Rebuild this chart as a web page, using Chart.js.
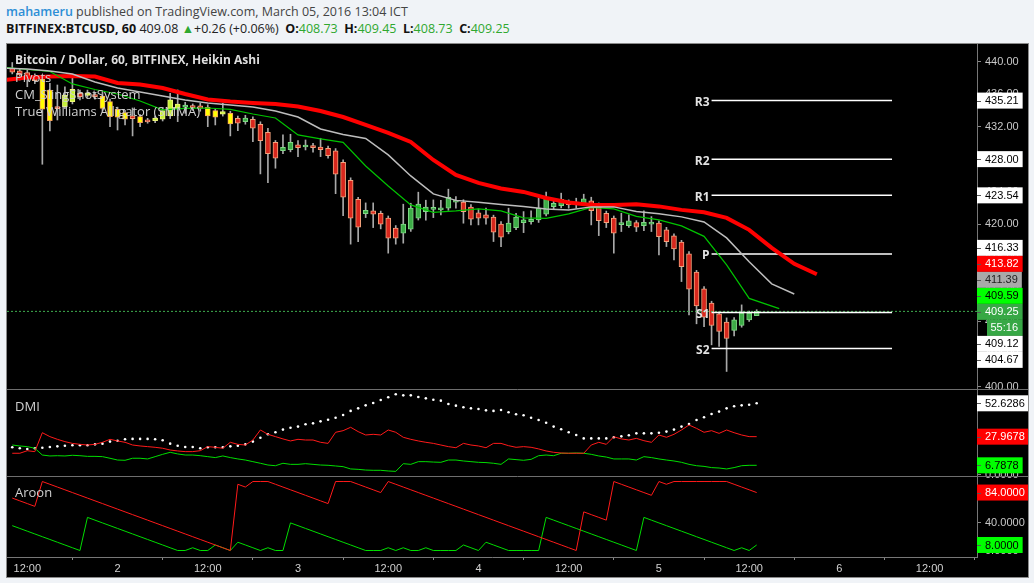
<!DOCTYPE html>
<html>
<head>
<meta charset="utf-8">
<script src="https://cdn.jsdelivr.net/npm/chart.js@4.4.0/dist/chart.umd.min.js"></script>
<style>
  html, body { margin: 0; padding: 0; width: 1034px; height: 583px; overflow: hidden; background: #f0f3f7; font-family: 'Open Sans', sans-serif; }
  .hdr { position: absolute; left: 6px; white-space: nowrap; font-size: 12.5px; line-height: 17px; }
  #l1 { top: 3px; color: #444; }
  #l2 { top: 20px; color: #222; }
  .user { color: #2c8ed6; font-weight: 600; }
  .b { font-weight: 700; color: #111; }
  .up { color: #2fa82f; }
  #frame { position: absolute; left: 6px; top: 43px; width: 1021px; height: 533px; border: 1px solid #8a8a8a; background: #000; }
  canvas { display: block; }
</style>
</head>
<body>
<div class="hdr" id="l1"><span class="user">mahameru</span> published on TradingView.com, March 05, 2016 13:04 ICT</div>
<div class="hdr" id="l2"><span class="b">BITFINEX:BTCUSD, 60</span> 409.08 <span class="up">&#9650;</span>+0.26 (+0.06%) &nbsp;<span class="b">O:</span><span class="up">408.73</span> &nbsp;<span class="b">H:</span><span class="up">409.45</span> &nbsp;<span class="b">L:</span><span class="up">408.73</span> &nbsp;<span class="b">C:</span><span class="up">409.25</span></div>
<div id="frame"><canvas id="chart" width="1021" height="533"></canvas></div>
<script>
// hourly Heikin Ashi bars, first bar = March 1, 10:00 (x values are hours since March 1, 00:00)
const firstHour = 10
const opens = [439.19, 438.89, 438.65, 438.15, 437.87, 436.52, 434.46, 434.46, 435.08, 436.11,
  435.86, 435.90, 435.78, 435.08, 434.14, 433.72, 433.32, 433.23, 432.82, 432.74,
  432.91, 433.32, 434.22, 434.39, 434.55, 434.55, 434.39, 433.97, 433.53, 433.65,
  433.03, 432.62, 432.91, 432.30, 431.31, 430.08, 429.05, 429.17, 429.75, 429.50,
  429.62, 429.50, 429.34, 429.01, 427.62, 425.40, 423.06, 421.29, 421.62, 421.34,
  420.73, 419.50, 418.88, 419.37, 420.73, 421.54, 421.82, 421.75, 421.96, 422.69,
  422.70, 422.08, 421.38, 421.13, 420.85, 419.99, 419.08, 419.57, 420.18, 420.31,
  420.52, 421.22, 422.15, 422.28, 422.70, 422.57, 422.52, 422.86, 422.36, 421.34,
  420.73, 419.94, 419.82, 420.18, 419.82, 419.99, 420.11, 419.29, 418.55, 417.77,
  416.33, 414.08, 412.02, 410.26, 408.95, 407.93, 406.89, 407.51, 408.21, 408.73]
const highs = [439.9, 439.1, 439.0, 438.5, 438.15, 437.34, 437.13, 436.92, 438.15, 436.5,
  436.5, 436.2, 436.31, 435.4, 434.4, 434.0, 434.3, 433.5, 433.03, 433.3,
  434.3, 436.11, 436.52, 435.0, 434.8, 434.9, 434.7, 434.2, 434.88, 433.9,
  433.3, 433.4, 433.2, 432.6, 431.80, 430.3, 430.98, 431.06, 430.28, 430.36,
  429.96, 430.57, 429.6, 429.3, 427.9, 425.7, 423.3, 422.61, 422.61, 421.6,
  421.0, 419.82, 422.45, 422.57, 423.93, 422.94, 422.98, 422.94, 424.30, 423.38,
  423.0, 422.4, 421.87, 421.96, 421.1, 420.3, 421.96, 421.34, 421.54, 421.62,
  423.19, 423.93, 423.10, 423.81, 422.98, 423.19, 423.68, 423.31, 422.6, 421.6,
  421.0, 421.34, 421.13, 420.43, 421.62, 420.92, 420.4, 419.6, 418.8, 418.0,
  416.6, 414.3, 412.3, 410.5, 409.2, 408.45, 408.5, 410.05, 409.3, 409.45]
const lows = [438.5, 437.75, 436.92, 437.3, 427.37, 431.47, 432.82, 434.2, 434.8, 435.3,
  435.6, 435.4, 433.9, 432.0, 431.59, 432.21, 430.86, 432.0, 432.42, 432.5,
  432.7, 433.0, 432.62, 433.65, 434.0, 433.9, 432.0, 432.21, 433.3, 430.86,
  431.51, 432.3, 430.15, 426.18, 425.11, 426.88, 428.68, 428.9, 428.31, 429.13,
  428.85, 428.31, 428.11, 423.75, 421.05, 417.53, 417.85, 420.80, 419.57, 419.41,
  416.42, 417.53, 417.65, 419.1, 420.5, 420.48, 420.80, 421.13, 421.7, 421.96,
  420.11, 419.90, 419.90, 419.99, 417.85, 417.23, 418.8, 419.3, 418.95, 420.0,
  420.2, 421.0, 421.9, 422.0, 421.96, 421.96, 422.3, 419.90, 418.58, 419.57,
  416.42, 419.08, 419.6, 419.08, 419.20, 419.08, 416.21, 417.23, 415.59, 412.92,
  408.82, 407.72, 407.38, 405.13, 404.92, 401.85, 406.24, 407.3, 408.0, 408.73]
const closes = [438.70, 438.36, 437.96, 437.66, 434.14, 432.74, 434.22, 435.90, 436.60, 435.69,
  436.18, 435.69, 434.26, 433.23, 433.16, 432.91, 432.98, 432.49, 432.58, 433.07,
  433.97, 435.29, 434.79, 434.67, 434.34, 434.26, 433.32, 433.16, 433.85, 432.33,
  432.42, 433.07, 431.80, 430.28, 428.68, 428.11, 429.46, 430.08, 429.42, 429.59,
  429.42, 429.17, 428.43, 426.14, 423.31, 420.73, 419.62, 421.71, 421.22, 419.99,
  418.27, 418.27, 419.99, 421.96, 422.45, 422.08, 421.90, 421.96, 423.31, 422.77,
  421.54, 420.60, 420.73, 420.73, 419.00, 418.39, 420.11, 420.85, 420.52, 420.60,
  421.96, 423.31, 422.57, 423.06, 422.40, 422.45, 423.10, 421.66, 420.43, 420.18,
  418.88, 420.02, 420.39, 419.62, 420.23, 420.18, 418.46, 417.85, 416.95, 414.77,
  411.99, 409.93, 408.54, 407.51, 406.77, 405.91, 408.21, 409.03, 409.03, 409.25]
// bars highlighted by CM_SlingShotSystem
const slingshot = [0, 0, 0, 0, 1, 1, 0, 1, 1, 0,
  1, 0, 1, 1, 1, 1, 0, 1, 0, 1,
  1, 1, 1, 0, 0, 0, 1, 1, 1, 1]

// Williams Alligator (SMMA), sampled every 3 hours from hour 9
const alligatorStart = 9
const alligatorStep = 3
const jaw = [437.75, 438.06, 438.18, 438.24, 438.18, 437.38, 437.19, 436.76, 436.02, 435.35,
  435.10, 434.92, 434.79, 434.49, 433.93, 433.19, 432.21, 431.22, 430.12, 427.90,
  426.06, 425.07, 424.39, 423.96, 423.22, 422.67, 422.36, 422.36, 422.45, 422.18,
  421.75, 421.46, 420.76, 419.29, 417.07, 415.10, 413.82]
const teeth = [439.22, 439.10, 438.86, 438.49, 437.50, 436.76, 436.27, 435.78, 435.29, 434.92,
  434.67, 434.42, 433.93, 433.19, 431.72, 431.04, 430.55, 428.52, 425.93, 423.72,
  422.92, 422.70, 422.42, 422.18, 421.87, 421.75, 422.12, 422.12, 421.56, 421.26,
  420.89, 420.27, 418.30, 415.35, 412.64, 411.39]
const lips = [439.29, 439.04, 438.79, 437.26, 436.58, 436.02, 435.16, 434.06, 434.24, 434.30,
  434.12, 433.56, 433.07, 430.98, 430.49, 430.06, 427.16, 424.70, 422.36, 421.44,
  421.62, 421.87, 421.62, 420.76, 420.70, 421.26, 422.06, 421.87, 420.95, 420.52,
  419.78, 418.49, 414.98, 410.85, 409.59]

// pivots
const pivotNames = ['R3', 'R2', 'R1', 'P', 'S1', 'S2']
const pivotValues = [435.21, 428.00, 423.54, 416.33, 409.12, 404.67]
const pivotFrom = 103
const pivotTo = 127

// DMI
const adx = [20.1, 19.4, 18.9, 19.4, 19.8, 20.3, 20.8, 21.3, 21.6, 21.6,
  21.6, 22.3, 22.8, 24.3, 25.0, 26.0, 26.3, 26.3, 26.3, 26.0,
  25.3, 22.8, 21.3, 20.3, 20.3, 19.4, 20.1, 20.1, 20.1, 20.8,
  21.3, 22.3, 24.3, 27.2, 29.7, 31.2, 33.2, 34.6, 35.4, 37.1,
  37.8, 39.3, 40.5, 42.0, 44.0, 47.0, 48.9, 51.1, 52.9, 55.1,
  57.1, 59.3, 58.5, 58.5, 57.3, 56.3, 55.3, 54.6, 52.1, 50.9,
  49.7, 48.9, 48.4, 47.4, 47.0, 47.7, 46.0, 44.5, 43.8, 42.0,
  40.3, 38.3, 35.4, 33.4, 31.2, 29.2, 26.7, 26.7, 26.7, 26.7,
  27.5, 28.2, 29.0, 30.4, 30.4, 30.4, 30.9, 31.7, 33.2, 35.4,
  37.3, 40.3, 42.3, 44.7, 46.5, 48.9, 50.4, 51.1, 51.6, 52.6286]
const plusDI = [15.7, 15.7, 17.6, 16.9, 30.9, 28.0, 26.0, 24.3, 23.0, 22.3,
  21.8, 22.3, 23.8, 26.0, 24.8, 23.8, 21.8, 21.1, 20.6, 20.1,
  19.4, 18.1, 17.4, 16.9, 16.9, 17.6, 20.6, 20.1, 19.4, 23.8,
  22.3, 21.8, 25.5, 32.9, 29.7, 28.0, 26.3, 24.8, 26.0, 25.5,
  25.5, 23.8, 23.0, 31.2, 32.4, 34.9, 31.7, 29.2, 29.7, 29.2,
  32.9, 31.2, 27.5, 26.0, 24.8, 23.8, 23.0, 21.8, 20.6, 19.8,
  23.0, 21.8, 21.1, 19.8, 23.0, 23.0, 21.3, 20.1, 20.6, 20.1,
  18.9, 17.4, 16.4, 15.9, 15.7, 15.7, 15.7, 21.8, 23.8, 22.3,
  27.9, 26.3, 25.5, 26.7, 25.0, 23.8, 29.2, 27.5, 29.7, 32.9,
  36.6, 34.1, 31.2, 32.4, 30.4, 32.9, 30.9, 29.2, 28.0, 27.9678]
const minusDI = [21.8, 21.1, 20.6, 19.4, 14.4, 13.7, 13.9, 13.7, 14.2, 13.9,
  13.4, 13.4, 13.2, 12.0, 10.7, 10.5, 12.0, 12.0, 11.5, 13.2,
  14.9, 16.4, 15.2, 14.4, 14.4, 13.9, 13.2, 12.5, 13.7, 12.5,
  11.5, 10.7, 9.5, 8.3, 7.0, 6.5, 8.3, 7.5, 7.5, 8.0,
  7.5, 7.0, 6.8, 6.3, 5.8, 4.1, 3.8, 3.3, 3.1, 3.1,
  2.6, 2.3, 8.0, 7.5, 9.5, 9.5, 9.2, 9.0, 10.7, 10.7,
  10.0, 9.5, 9.0, 8.8, 8.3, 7.5, 11.5, 11.0, 10.5, 11.2,
  13.9, 14.4, 13.9, 15.7, 15.7, 15.9, 15.7, 14.9, 13.7, 12.9,
  11.5, 11.5, 11.5, 10.7, 13.2, 12.5, 11.5, 10.7, 10.0, 9.0,
  7.5, 6.5, 6.0, 5.1, 4.8, 4.1, 5.1, 6.5, 6.8, 6.7878]

// Aroon
const aroonRed = [76, 72, 68, 64, 100, 96, 92, 88, 84, 80,
  76, 72, 68, 64, 60, 56, 52, 48, 44, 40,
  36, 32, 28, 24, 20, 16, 12, 8, 4, 0,
  96, 92, 100, 100, 100, 96, 92, 88, 84, 80,
  76, 72, 68, 100, 100, 100, 96, 92, 88, 84,
  100, 96, 92, 88, 84, 80, 76, 72, 68, 64,
  60, 56, 52, 48, 44, 40, 36, 32, 28, 24,
  20, 16, 12, 8, 4, 0, 56, 52, 48, 44,
  100, 96, 92, 88, 84, 80, 100, 96, 100, 100,
  100, 100, 100, 100, 100, 100, 96, 92, 88, 84]
const aroonGreen = [36, 32, 28, 24, 20, 16, 12, 8, 4, 0,
  48, 44, 40, 36, 32, 28, 24, 20, 16, 12,
  8, 4, 0, 0, 4, 0, 0, 8, 4, 0,
  12, 8, 4, 0, 4, 0, 0, 40, 36, 32,
  28, 24, 20, 16, 12, 8, 4, 0, 0, 0,
  4, 0, 4, 0, 0, 4, 0, 0, 0, 0,
  8, 4, 0, 12, 8, 4, 0, 0, 0, 0,
  0, 48, 44, 40, 36, 32, 28, 24, 20, 16,
  12, 8, 4, 0, 48, 44, 40, 36, 32, 28,
  24, 20, 16, 12, 8, 4, 0, 4, 0, 8]

// axes
const xMin = 9.3
const xMax = 138.3
const xTicks = [12, 24, 36, 48, 60, 72, 84, 96, 108, 120, 132]
const priceTicks = [400, 404, 408, 412, 416, 420, 424, 428, 432, 436, 440]
const dmiTicks = [0, 25, 50]
const aroonTicks = [0, 40, 80]
const countdown = '55:16'

const title = 'Bitcoin / Dollar, 60, BITFINEX, Heikin Ashi'
const studies = ['Pivots', 'CM_SlingShotSystem', 'True Williams Alligator (SMMA)']

const barX = opens.map((_, i) => firstHour + i)
const series = vals => vals.map((v, i) => ({ x: barX[i], y: v }))
const sampled = vals => vals.map((v, i) => ({ x: alligatorStart + i * alligatorStep, y: v }))
const lipsPts = sampled(lips)
lipsPts[lipsPts.length - 1].x = 112

const bodyFill = []
const bodyEdge = []
opens.forEach((o, i) => {
  const up = closes[i] >= o
  if (slingshot[i]) {
    bodyFill.push(up ? '#c4f23a' : '#ffff00')
    bodyEdge.push(up ? '#eef77a' : '#f6a35a')
  } else {
    bodyFill.push(up ? '#3dac47' : '#d8271d')
    bodyEdge.push(up ? '#7fd884' : '#f5a27c')
  }
})

const lineDs = (data, color, width, axis) => ({
  type: 'line', data, yAxisID: axis || 'y', borderColor: color, borderWidth: width,
  pointRadius: 0, tension: 0, fill: false, order: 1
})

const datasets = [
  { type: 'bar', data: barX.map((h, i) => ({ x: h, y: [lows[i], highs[i]] })),
    backgroundColor: '#a9a9a9', barThickness: 1, grouped: false, order: 4 },
  { type: 'bar', data: barX.map((h, i) => ({ x: h, y: [opens[i], closes[i]] })),
    backgroundColor: bodyFill, borderColor: bodyEdge, borderWidth: 1, borderSkipped: false,
    barThickness: 5, minBarLength: 2, grouped: false, order: 3 },
  lineDs(sampled(teeth), '#bdbdbd', 1.5),
  lineDs(lipsPts, '#00c400', 1.2),
  lineDs(sampled(jaw), '#ff0000', 4),
  ...pivotValues.map(v => lineDs([{ x: pivotFrom, y: v }, { x: pivotTo, y: v }], '#ffffff', 1.5)),
  Object.assign(lineDs([{ x: xMin, y: closes[closes.length - 1] }, { x: xMax, y: closes[closes.length - 1] }], '#3fae4f', 1), { borderDash: [2, 2] }),
  lineDs(series(plusDI), '#ff1a1a', 1, 'yDmi'),
  lineDs(series(minusDI), '#00dd00', 1, 'yDmi'),
  { type: 'line', data: series(adx), yAxisID: 'yDmi', showLine: false, pointRadius: 1.3,
    pointBackgroundColor: '#ffffff', pointBorderWidth: 0, order: 1 },
  lineDs(series(aroonRed), '#ff1a1a', 1, 'yAr'),
  lineDs(series(aroonGreen), '#00dd00', 1, 'yAr')
]

const noPad = s => { s.paddingTop = 0; s.paddingBottom = 0; s.paddingLeft = 0; s.paddingRight = 0 }
const axisFont = { family: '"Liberation Sans", Arial, sans-serif', size: 11 }
const yScale = (weight, min, max, ticks, digits) => ({
  type: 'linear', position: 'right', stack: 'panes', stackWeight: weight, min, max,
  afterBuildTicks: s => { s.ticks = ticks.map(v => ({ value: v })) },
  afterFit: s => { s.width = 51; noPad(s) },
  ticks: { color: '#c8c8c8', font: axisFont, padding: 4, callback: v => v.toFixed(digits) },
  grid: { display: true, drawOnChartArea: false, drawTicks: true, tickLength: 4, color: '#888' },
  border: { display: true, color: '#777' }
})

// push overlapping axis labels apart, keeping each group centred on its values
function stackBoxes (items) {
  items.sort((a, b) => a.key - b.key)
  const topOf = g => {
    let acc = 0, sum = 0
    g.forEach(it => { sum += it.want - (acc + it.h / 2); acc += it.h })
    return sum / g.length
  }
  const hOf = g => g.reduce((s, it) => s + it.h, 0)
  const groups = items.map(it => [it])
  let again = true
  while (again) {
    again = false
    for (let i = 0; i < groups.length - 1; i++) {
      if (topOf(groups[i]) + hOf(groups[i]) > topOf(groups[i + 1])) {
        groups.splice(i, 2, groups[i].concat(groups[i + 1]))
        again = true
        break
      }
    }
  }
  groups.forEach(g => { let t = topOf(g); g.forEach(it => { it.top = t; t += it.h }) })
  return items
}

const overlay = {
  id: 'overlay',
  afterDraw (chart) {
    const ctx = chart.ctx
    const { x, y, yDmi, yAr } = chart.scales
    const right = chart.chartArea.right
    ctx.save()
    ctx.strokeStyle = '#6e6e6e'
    ctx.lineWidth = 1
    ;[yDmi.top, yAr.top].forEach(t => {
      ctx.beginPath()
      ctx.moveTo(0, Math.round(t) + 0.5)
      ctx.lineTo(chart.width, Math.round(t) + 0.5)
      ctx.stroke()
    })

    ctx.textBaseline = 'middle'
    ctx.textAlign = 'left'
    ctx.fillStyle = '#dedede'
    ctx.font = 'bold 12px "Open Sans"'
    ctx.fillText(title, 8, y.top + 17)
    ctx.font = '13px "Open Sans"'
    ctx.fillStyle = '#d0d0d0'
    studies.forEach((s, i) => ctx.fillText(s, 8, y.top + 34 + i * 17))
    ctx.fillText('DMI', 8, yDmi.top + 18)
    ctx.fillText('Aroon', 8, yAr.top + 17)

    ctx.font = 'bold 12px "Open Sans"'
    ctx.textAlign = 'right'
    ctx.fillStyle = '#e2e2e2'
    pivotNames.forEach((n, i) => ctx.fillText(n, x.getPixelForValue(pivotFrom) - 2, y.getPixelForValue(pivotValues[i]) + 2))

    const last = a => a[a.length - 1]
    const priceItems = pivotValues.map(v => ({ v, bg: '#ffffff', fg: '#000' }))
    priceItems.push({ v: last(jaw), bg: '#ff0000', fg: '#fff' })
    priceItems.push({ v: last(teeth), bg: '#a9a9a9', fg: '#222' })
    priceItems.push({ v: last(lips), bg: '#00ff00', fg: '#000' })
    priceItems.push({ v: last(closes), bg: '#37a845', fg: '#fff', extra: countdown })
    priceItems.forEach(it => {
      it.text = it.v.toFixed(2)
      it.h = it.extra ? 32 : 16
      it.key = y.getPixelForValue(it.v)
      it.want = it.key + (it.extra ? 8 : 0)
    })
    const dmiItems = [
      { v: last(adx), bg: '#ffffff', fg: '#000' },
      { v: last(plusDI), bg: '#ff0000', fg: '#fff' },
      { v: last(minusDI), bg: '#00ff00', fg: '#000' }
    ]
    const arItems = [
      { v: last(aroonRed), bg: '#ff0000', fg: '#fff' },
      { v: last(aroonGreen), bg: '#00ff00', fg: '#000' }
    ]
    dmiItems.forEach(it => { it.text = it.v.toFixed(4); it.h = 16; it.key = it.want = yDmi.getPixelForValue(it.v) })
    arItems.forEach(it => { it.text = it.v.toFixed(4); it.h = 16; it.key = it.want = yAr.getPixelForValue(it.v) })

    ctx.font = '11px "Liberation Sans", Arial, sans-serif'
    ctx.textAlign = 'left'
    const drawBox = it => {
      const w = ctx.measureText(it.text).width + 12
      ctx.fillStyle = it.bg
      ctx.fillRect(right, it.top, w, 16)
      ctx.strokeStyle = '#555'
      ctx.beginPath()
      ctx.moveTo(right, Math.round(it.top + 8) + 0.5)
      ctx.lineTo(right + 4, Math.round(it.top + 8) + 0.5)
      ctx.stroke()
      ctx.fillStyle = it.fg
      ctx.fillText(it.text, right + 8, it.top + 8.5)
      if (it.extra) {
        ctx.fillStyle = it.bg
        ctx.fillRect(right + 10, it.top + 16, w - 10, 16)
        ctx.fillStyle = it.fg
        ctx.fillText(it.extra, right + 13.5, it.top + 24.5)
      }
    }
    stackBoxes(priceItems).forEach(drawBox)
    stackBoxes(dmiItems).forEach(drawBox)
    stackBoxes(arItems).forEach(drawBox)
    ctx.restore()
  }
}

new Chart(document.getElementById('chart'), {
  type: 'bar',
  data: { datasets },
  plugins: [overlay],
  options: {
    responsive: false,
    animation: false,
    events: [],
    layout: { padding: 0, autoPadding: false },
    plugins: { legend: { display: false }, tooltip: { enabled: false } },
    scales: {
      x: {
        type: 'linear', position: 'bottom', min: xMin, max: xMax, offset: false,
        afterBuildTicks: s => { s.ticks = xTicks.map(v => ({ value: v })) },
        afterFit: s => { s.height = 20; noPad(s) },
        ticks: {
          color: '#d2d2d2', font: axisFont, padding: 2, maxRotation: 0, autoSkip: false,
          callback: v => (v % 24 === 12 ? '12:00' : String(v / 24 + 1))
        },
        grid: { display: true, drawOnChartArea: false, drawTicks: true, tickLength: 3, color: '#888' },
        border: { display: true, color: '#777' }
      },
      y: yScale(345, 399.69, 442.18, priceTicks, 2),
      yDmi: yScale(87, -1.11, 63.2, dmiTicks, 4),
      yAr: yScale(81, -9.42, 108, aroonTicks, 4)
    }
  }
})
</script>
</body>
</html>
